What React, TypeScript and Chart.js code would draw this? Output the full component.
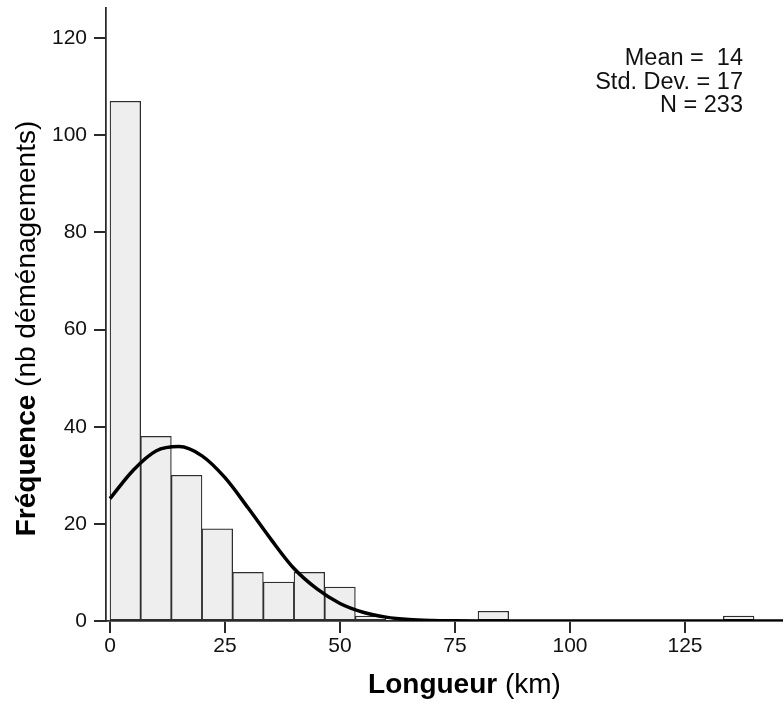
import React, { useEffect, useRef } from "react";
import { Chart, registerables } from "chart.js";

Chart.register(...registerables);

// Histogram bins (bin width 20/3 km), centre of each bin
const binCenters = [
  3.333, 10, 16.667, 23.333, 30, 36.667, 43.333, 50, 56.667, 63.333, 70,
  76.667, 83.333, 90, 96.667, 103.333, 110, 116.667, 123.333, 130, 136.667,
];
const binCounts = [107, 38, 30, 19, 10, 8, 10, 7, 1, 0, 0, 0, 2, 0, 0, 0, 0, 0, 0, 0, 1];

// Fitted normal curve
const curveX = [0, 5, 10, 15, 20, 25, 30, 35, 40, 45, 50, 55, 60, 65, 70, 75, 80, 90, 100, 110, 120, 130, 140, 150];
const curveY = [25.2, 31, 35, 35.9, 34, 29.5, 23.3, 16.8, 10.8, 6.6, 3.6, 1.8, 0.8, 0.3, 0.1, 0.03, 0, 0, 0, 0, 0, 0, 0, 0];

const xTicks = [0, 25, 50, 75, 100, 125];
const yTicks = [0, 20, 40, 60, 80, 100, 120];

const statLines = ["Mean =  14", "Std. Dev. = 17", "N = 233"];

const FONT = "'Liberation Sans', Arial, sans-serif";

const titlesPlugin = {
  id: "customTitles",
  afterDraw(chart: any) {
    const ctx = chart.ctx as CanvasRenderingContext2D;
    ctx.save();
    ctx.fillStyle = "#000";
    ctx.textBaseline = "alphabetic";

    const drawMixed = (bold: string, normal: string) => {
      ctx.font = `bold 28px ${FONT}`;
      const wb = ctx.measureText(bold).width;
      ctx.font = `28px ${FONT}`;
      const wn = ctx.measureText(normal).width;
      const start = -(wb + wn) / 2;
      ctx.textAlign = "left";
      ctx.font = `bold 28px ${FONT}`;
      ctx.fillText(bold, start, 0);
      ctx.font = `28px ${FONT}`;
      ctx.fillText(normal, start + wb, 0);
    };

    // X title
    ctx.save();
    ctx.translate(464.5, 693);
    drawMixed("Longueur", " (km)");
    ctx.restore();

    // Y title
    ctx.save();
    ctx.translate(35, 328.5);
    ctx.rotate(-Math.PI / 2);
    drawMixed("Fréquence", " (nb déménagements)");
    ctx.restore();

    // Stats box
    ctx.font = `23.5px ${FONT}`;
    ctx.textAlign = "right";
    ctx.fillStyle = "#111";
    statLines.forEach((s, i) => {
      ctx.fillText(s, 743, 65 + i * 23.5);
    });
    ctx.restore();
  },
};

export default function App() {
  const ref = useRef<HTMLCanvasElement>(null);

  useEffect(() => {
    if (!ref.current) return;
    const chart = new Chart(ref.current, {
      type: "bar",
      data: {
        datasets: [
          {
            type: "line",
            data: curveX.map((x, i) => ({ x, y: curveY[i] })),
            borderColor: "#000",
            borderWidth: 3.5,
            pointRadius: 0,
            fill: false,
            cubicInterpolationMode: "monotone",
            order: 0,
          } as any,
          {
            type: "bar",
            data: binCenters.map((x, i) => ({ x, y: binCounts[i] })),
            backgroundColor: "#eeeeee",
            borderColor: "#2e2e2e",
            borderWidth: 1.25,
            borderSkipped: false,
            barPercentage: 1,
            categoryPercentage: 1,
            order: 1,
          } as any,
        ],
      },
      options: {
        responsive: false,
        animation: false,
        layout: { padding: { top: 8, left: 0, right: 0, bottom: 0 } },
        plugins: {
          legend: { display: false },
          tooltip: { enabled: false },
          title: { display: false },
        },
        scales: {
          x: {
            type: "linear",
            min: -0.87,
            max: 146.3,
            offset: false,
            grid: {
              display: true,
              drawOnChartArea: false,
              drawTicks: true,
              tickLength: 12,
              color: "#2a2a2a",
              lineWidth: 2,
              offset: false,
            },
            border: { display: true, color: "#2a2a2a", width: 1.75 },
            ticks: {
              font: { family: FONT, size: 21 },
              color: "#111",
              padding: 1,
              maxRotation: 0,
              autoSkip: false,
            },
            afterBuildTicks: (scale: any) => {
              scale.ticks = xTicks.map((v) => ({ value: v }));
            },
            afterFit: (scale: any) => {
              scale.height = 81;
              scale.paddingLeft = 0;
              scale.paddingRight = 0;
              scale.paddingTop = 0;
              scale.paddingBottom = 0;
            },
          } as any,
          y: {
            type: "linear",
            min: 0,
            max: 126.2,
            grid: {
              display: true,
              drawOnChartArea: false,
              drawTicks: true,
              tickLength: 12,
              color: "#2a2a2a",
              lineWidth: 2,
            },
            border: { display: true, color: "#2a2a2a", width: 1.75 },
            ticks: {
              font: { family: FONT, size: 21 },
              color: "#111",
              padding: 7,
              autoSkip: false,
            },
            afterBuildTicks: (scale: any) => {
              scale.ticks = yTicks.map((v) => ({ value: v }));
            },
            afterFit: (scale: any) => {
              scale.width = 106;
              scale.paddingLeft = 0;
              scale.paddingRight = 0;
              scale.paddingTop = 0;
              scale.paddingBottom = 0;
            },
          } as any,
        },
      },
      plugins: [titlesPlugin],
    });
    return () => chart.destroy();
  }, []);

  return (
    <div style={{ position: "absolute", left: 0, top: 0, width: 783, height: 702, background: "#fff" }}>
      <canvas ref={ref} width={783} height={702} style={{ display: "block" }} />
    </div>
  );
}
